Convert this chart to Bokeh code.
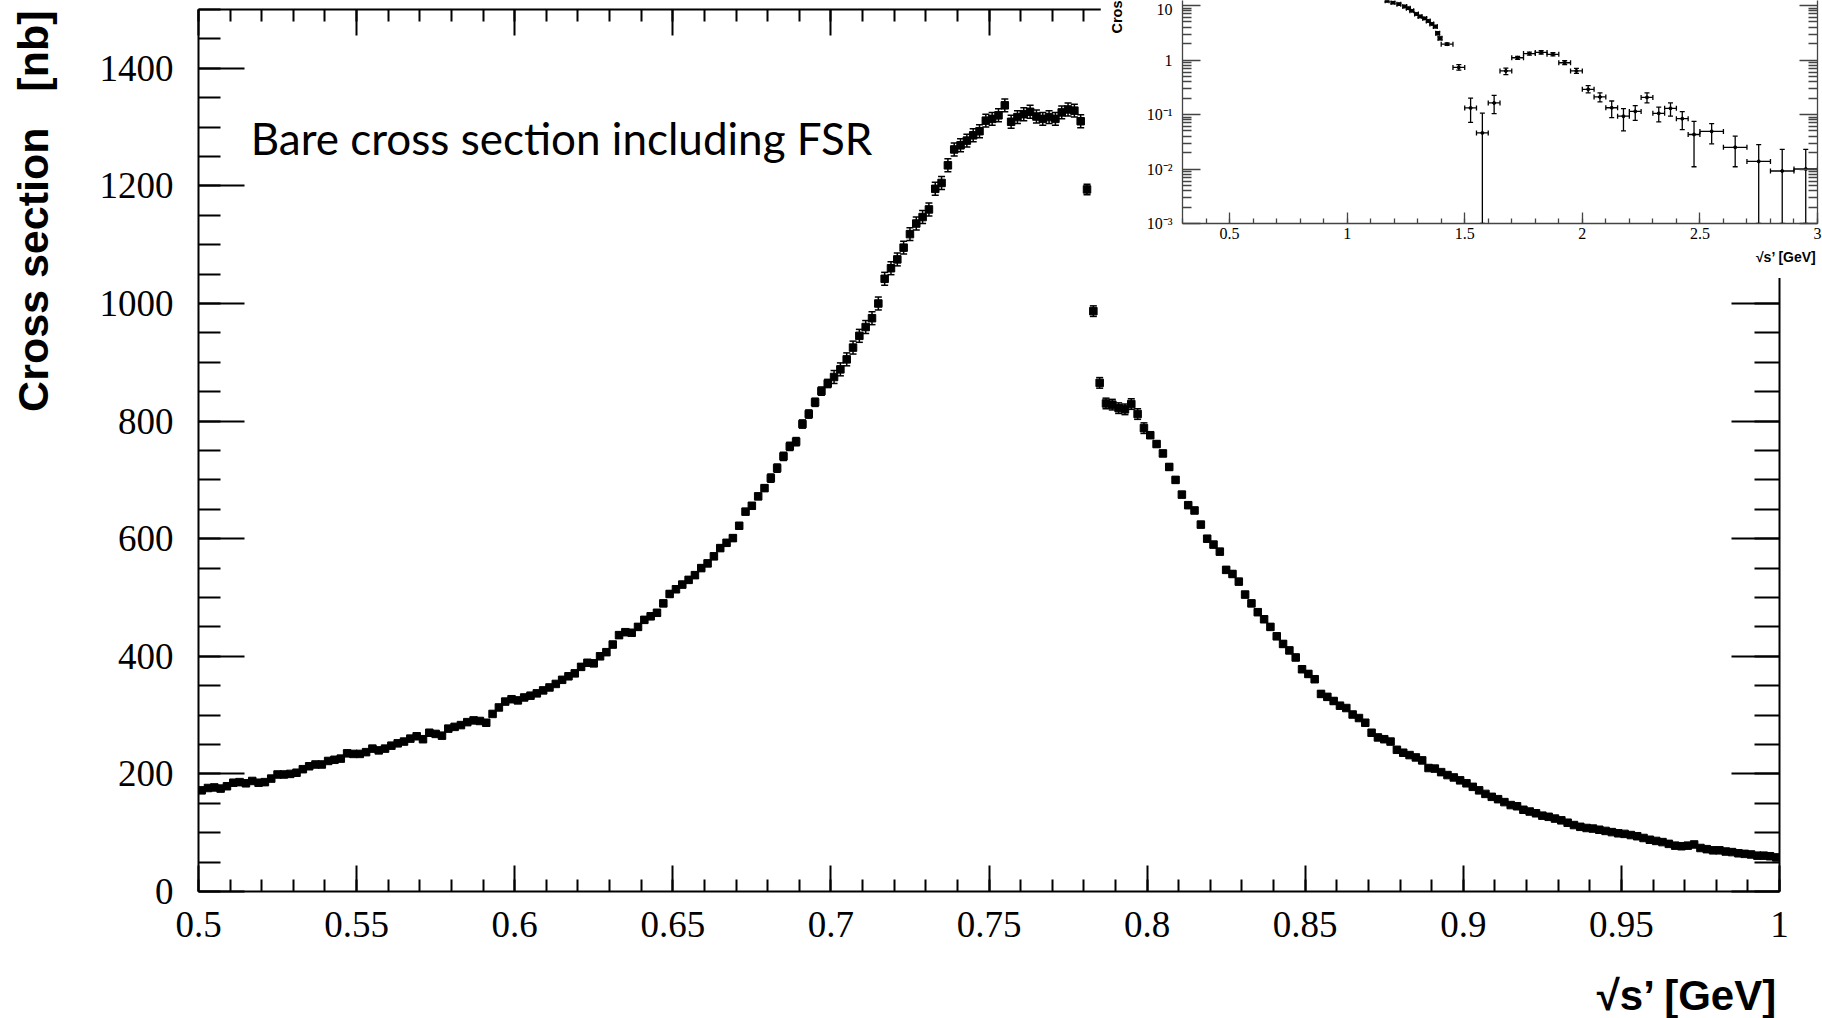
import numpy as np
from math import pi
from bokeh.plotting import figure
from bokeh.models import (Range1d, LinearAxis, LogAxis, SingleIntervalTicker, FixedTicker,
                          Whisker, TeeHead, ColumnDataSource, Label, CustomJSTickFormatter)
from bokeh.embed import file_html
from bokeh.resources import INLINE

# ---------------- main data: bare cross section (nb) in 2 MeV bins ----------------
half_bin = 0.001
sqrt_s = [round(0.501 + 0.002 * i, 3) for i in range(250)]
sigma = [
    172, 176, 177, 175, 179, 185, 186, 184, 188, 185,
    186, 192, 199, 199, 200, 202, 208, 213, 216, 216,
    222, 224, 226, 235, 234, 234, 237, 243, 240, 243,
    248, 252, 255, 260, 264, 259, 270, 268, 265, 277,
    280, 283, 288, 291, 290, 287, 302, 313, 323, 327,
    325, 330, 333, 337, 342, 347, 353, 360, 366, 371,
    382, 389, 388, 400, 407, 420, 436, 441, 440, 450,
    462, 468, 474, 490, 506, 514, 522, 530, 538, 550,
    558, 570, 584, 593, 601, 622, 646, 656, 672, 686,
    703, 720, 740, 757, 765, 795, 812, 832, 851, 864,
    875, 888, 905, 925, 945, 960, 975, 1000, 1042, 1060,
    1075, 1095, 1118, 1136, 1147, 1160, 1195, 1205, 1235, 1262,
    1269, 1277, 1286, 1293, 1311, 1314, 1320, 1337, 1309, 1317,
    1322, 1326, 1318, 1314, 1317, 1314, 1325, 1330, 1328, 1310,
    1194, 987, 865, 830, 828, 822, 820, 829, 812, 788,
    776, 761, 745, 722, 700, 675, 657, 648, 624, 600,
    590, 578, 547, 540, 527, 505, 490, 475, 463, 450,
    434, 421, 410, 398, 378, 370, 361, 336, 331, 324,
    316, 312, 301, 295, 287, 270, 262, 259, 255, 241,
    236, 232, 228, 223, 210, 209, 203, 198, 194, 189,
    184, 178, 172, 166, 161, 157, 152, 147, 145, 139,
    136, 133, 129, 127, 124, 121, 117, 113, 110, 108,
    107, 105, 103, 101, 99, 98, 96, 94, 91, 88,
    86, 84, 81, 78, 77, 78, 80, 74, 72, 70,
    70, 68, 67, 65, 64, 63, 61, 61, 60, 58,
]
sigma_err = [4] * 60 + [5] * 30 + [7] * 10 + [11] * 40 + [9] * 10 + [5] * 30 + [3] * 70

# ---------------- inset data (log scale, 0.3 - 3 GeV) ----------------
ins_sqrt_s = [1.17, 1.195, 1.22, 1.245, 1.26, 1.275, 1.295, 1.31, 1.33, 1.345, 1.36, 1.375, 1.385, 1.395,
              1.425, 1.475, 1.525, 1.575, 1.625, 1.675, 1.725, 1.775, 1.825, 1.875, 1.925, 1.975,
              2.025, 2.075, 2.125, 2.175, 2.225, 2.275, 2.325, 2.375, 2.425, 2.475,
              2.55, 2.65, 2.75, 2.85, 2.95]
ins_sigma = [12.2, 11.3, 10.6, 9.6, 8.9, 8.0, 7.0, 6.3, 5.8, 5.2, 4.6, 4.1, 3.1, 2.5,
             1.95, 0.73, 0.132, 0.046, 0.163, 0.63, 1.10, 1.31, 1.38, 1.27, 0.89, 0.63,
             0.29, 0.21, 0.133, 0.093, 0.114, 0.206, 0.105, 0.13, 0.084, 0.043,
             0.049, 0.025, 0.0138, 0.0092, 0.0100]
ins_low = [11.7, 10.8, 10.2, 9.2, 8.5, 7.7, 6.7, 6.0, 5.55, 4.95, 4.4, 3.9, 2.9, 2.35,
           1.85, 0.65, 0.072, 0.001, 0.104, 0.54, 1.03, 1.23, 1.29, 1.19, 0.82, 0.57,
           0.25, 0.17, 0.088, 0.05, 0.078, 0.163, 0.073, 0.093, 0.053, 0.011,
           0.029, 0.011, 0.001, 0.001, 0.001]
ins_high = [12.7, 11.8, 11.0, 10.0, 9.3, 8.3, 7.3, 6.6, 6.05, 5.45, 4.8, 4.3, 3.3, 2.65,
            2.05, 0.82, 0.20, 0.106, 0.225, 0.71, 1.17, 1.40, 1.48, 1.36, 0.97, 0.70,
            0.34, 0.25, 0.177, 0.128, 0.145, 0.25, 0.137, 0.163, 0.113, 0.075,
            0.068, 0.040, 0.028, 0.023, 0.023]
ins_half_bin = [0.008] * 14 + [0.025] * 22 + [0.05] * 5

# text strings
annotation_text = "Bare cross section including FSR"
y_title = "Cross section\u00a0\u00a0\u00a0[nb]"
x_title = "\u221as\u2019 [GeV]"
inset_y_title = "Cross section [nb]"

SERIF = "Liberation Serif"
SANS = "Liberation Sans"

fmt = CustomJSTickFormatter(code="return String(Math.round(tick*100)/100);")


def style_axis(ax, major_in, minor_in, labels=True, size="37px", standoff=10, color="black", lw=2.0):
    ax.major_tick_in = major_in
    ax.major_tick_out = 0
    ax.minor_tick_in = minor_in
    ax.minor_tick_out = 0
    ax.axis_line_width = lw
    ax.major_tick_line_width = lw
    ax.minor_tick_line_width = lw
    ax.axis_line_color = color
    ax.major_tick_line_color = color
    ax.minor_tick_line_color = color
    if labels:
        ax.major_label_text_font = SERIF
        ax.major_label_text_font_size = size
        ax.major_label_text_color = "black"
        ax.major_label_standoff = standoff
    else:
        ax.formatter = CustomJSTickFormatter(code="return '';")
        ax.major_label_text_font_size = "1px"
        ax.major_label_text_color = None
        ax.major_label_standoff = 0


# ---------------- main figure ----------------
p = figure(width=1822, height=1018, x_range=Range1d(0.5, 1.0), y_range=Range1d(0, 1500),
           x_axis_type=None, y_axis_type=None, output_backend="svg", toolbar_location=None,
           min_border_left=198, min_border_right=43, min_border_top=9, min_border_bottom=127)
p.outline_line_color = None
p.background_fill_color = "white"
p.border_fill_color = "white"

xb = LinearAxis(ticker=SingleIntervalTicker(interval=0.05, num_minor_ticks=5), formatter=fmt)
style_axis(xb, 26, 12, True, "37px", 20)
p.add_layout(xb, "below")
xt = LinearAxis(ticker=SingleIntervalTicker(interval=0.05, num_minor_ticks=5))
style_axis(xt, 26, 12, False)
p.add_layout(xt, "above")
yl = LinearAxis(ticker=SingleIntervalTicker(interval=200, num_minor_ticks=4))
style_axis(yl, 46, 22, True, "37px", 25)
p.add_layout(yl, "left")
yr = LinearAxis(ticker=SingleIntervalTicker(interval=200, num_minor_ticks=4))
style_axis(yr, 48, 25, False)
p.add_layout(yr, "right")

xs = np.array(sqrt_s)
ys = np.array(sigma, dtype=float)
es = np.array(sigma_err, dtype=float)
src = ColumnDataSource(dict(x=xs, y=ys, lo=ys - es, hi=ys + es, x0=xs - half_bin, x1=xs + half_bin))
p.segment(x0="x0", y0="y", x1="x1", y1="y", source=src, line_color="black", line_width=1.5)
p.add_layout(Whisker(source=src, base="x", lower="lo", upper="hi", dimension="height",
                     line_color="black", line_width=1.5,
                     lower_head=TeeHead(size=7, line_width=1.5, line_color="black"),
                     upper_head=TeeHead(size=7, line_width=1.5, line_color="black")))
p.scatter(x="x", y="y", source=src, marker="square", size=7.5, fill_color="black", line_color="black")

p.add_layout(Label(x=0.5165, y=1281, text=annotation_text, text_font="Lato",
                   text_font_size="44px", text_color="black", text_align="left",
                   text_baseline="alphabetic"))

# ---------------- inset figure ----------------
inset = figure(width=722, height=278, x_range=Range1d(0.3, 3.0), y_range=Range1d(1e-3, 12.36),
               y_axis_type="log", output_backend="svg", toolbar_location=None,
               min_border_left=82, min_border_right=5, min_border_top=0, min_border_bottom=55)
inset.outline_line_color = None
inset.xgrid.visible = False
inset.ygrid.visible = False
inset.background_fill_color = "white"
inset.border_fill_color = "white"

log_major = [1e-3, 1e-2, 1e-1, 1.0, 10.0]
log_minor = [m * d for d in [1e-3, 1e-2, 1e-1, 1.0, 10.0] for m in range(2, 10)]
yfmt = CustomJSTickFormatter(code="""
const e = Math.round(Math.log10(tick));
if (e >= 0) { return String(Math.round(tick)); }
const sup = {'-1': '\u207b\u00b9', '-2': '\u207b\u00b2', '-3': '\u207b\u00b3'};
return '10' + sup[String(e)];
""")

iax = inset.xaxis[0]
iax.ticker = SingleIntervalTicker(interval=0.5, num_minor_ticks=5)
iax.formatter = fmt
style_axis(iax, 11, 5, True, "16px", 4, color="#444444", lw=1.3)
iay = inset.yaxis[0]
iay.ticker = FixedTicker(ticks=log_major, minor_ticks=log_minor)
iay.formatter = yfmt
style_axis(iay, 18, 9, True, "16px", 10, color="#444444", lw=1.3)
iayr = LogAxis(ticker=FixedTicker(ticks=log_major, minor_ticks=log_minor))
style_axis(iayr, 18, 9, False, color="#444444", lw=1.3)
inset.add_layout(iayr, "right")

ix = np.array(ins_sqrt_s)
ihb = np.array(ins_half_bin)
isrc = ColumnDataSource(dict(x=ix, y=ins_sigma, lo=ins_low, hi=ins_high, x0=ix - ihb, x1=ix + ihb))
inset.add_layout(Whisker(source=isrc, base="y", lower="x0", upper="x1", dimension="width",
                         line_color="black", line_width=1.3,
                         lower_head=TeeHead(size=5, line_width=1.3, line_color="black"),
                         upper_head=TeeHead(size=5, line_width=1.3, line_color="black")))
inset.add_layout(Whisker(source=isrc, base="x", lower="lo", upper="hi", dimension="height",
                         line_color="black", line_width=1.3,
                         lower_head=TeeHead(size=5, line_width=1.3, line_color="black"),
                         upper_head=TeeHead(size=5, line_width=1.3, line_color="black")))
inset.scatter(x="x", y="y", source=isrc, marker="circle", size=3, fill_color="black", line_color="black")
inset.styles = {"position": "absolute", "left": "1100px", "top": "0px", "z-index": "2"}

# ---------------- transparent overlay holding the axis titles (page-pixel coordinates) ----------------
ov = figure(width=1822, height=1018, x_range=Range1d(0, 1822), y_range=Range1d(1018, 0),
            x_axis_type=None, y_axis_type=None, output_backend="svg", toolbar_location=None,
            min_border=0)
ov.outline_line_color = None
ov.background_fill_alpha = 0
ov.border_fill_alpha = 0
ov.add_layout(Label(x=32, y=10, text=y_title, angle=pi / 2,
                    text_font=SANS, text_font_style="bold", text_font_size="43px",
                    text_color="black", text_align="right", text_baseline="alphabetic"))
ov.add_layout(Label(x=1778, y=995, text=x_title, text_font=SANS, text_font_style="bold",
                    text_font_size="42px", text_color="black", text_align="right",
                    text_baseline="alphabetic"))
ov.add_layout(Label(x=1116, y=33, text=inset_y_title, angle=pi / 2,
                    text_font=SANS, text_font_style="bold", text_font_size="14.5px",
                    text_color="black", text_align="left", text_baseline="alphabetic"))
ov.add_layout(Label(x=1816, y=256, text=x_title, text_font=SANS,
                    text_font_style="bold", text_font_size="14px", text_color="black",
                    text_align="right", text_baseline="alphabetic"))
ov.styles = {"position": "absolute", "left": "0px", "top": "0px", "z-index": "3",
             "pointer-events": "none"}

open("out.html", "w").write(file_html([p, inset, ov], INLINE))
